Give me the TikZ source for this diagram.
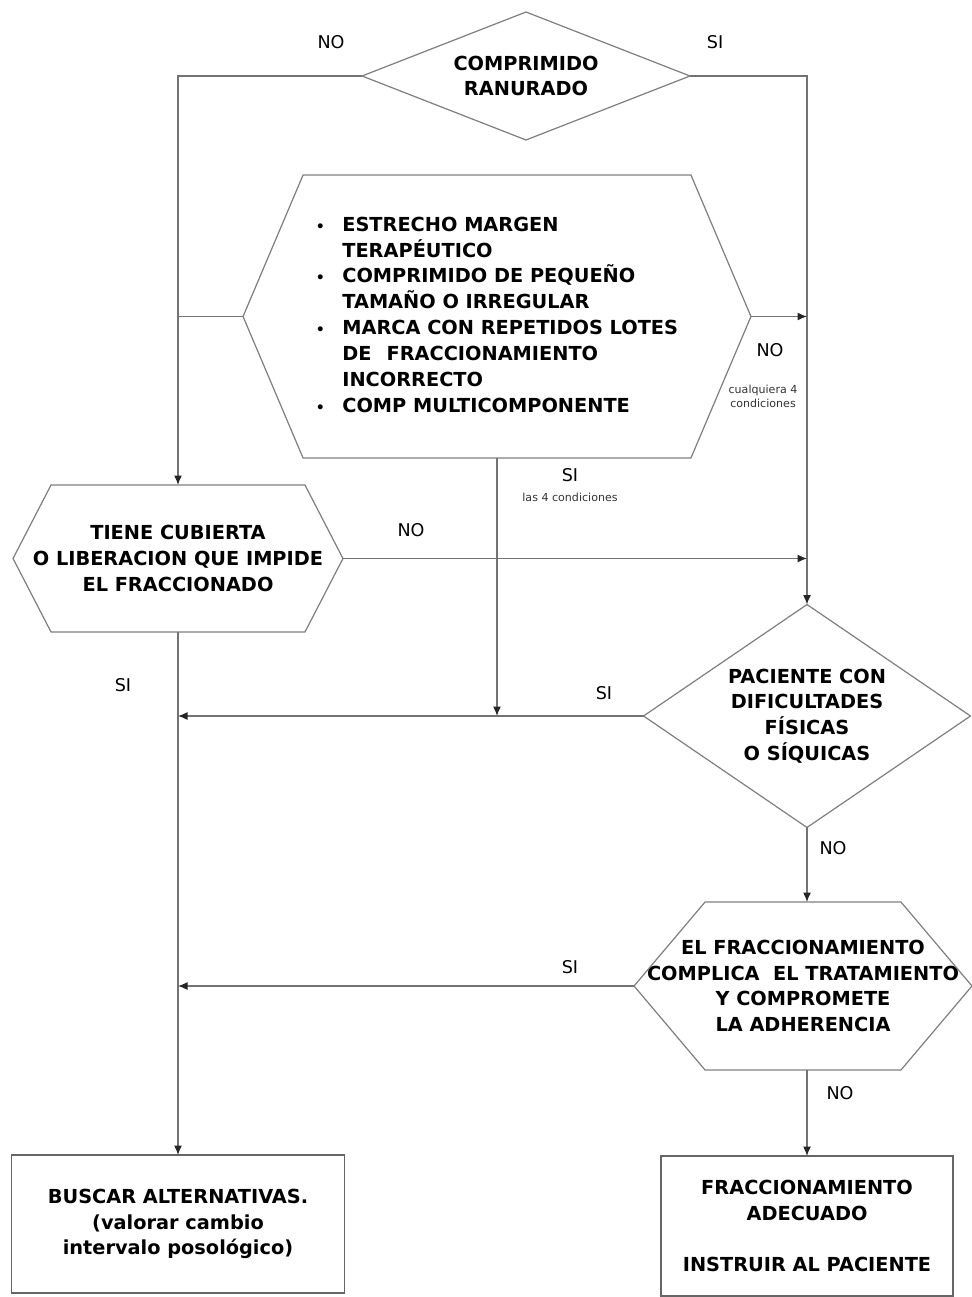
\documentclass[tikz,border=0pt]{standalone}
\usepackage{fontspec}
\setmainfont{DejaVu Sans}
\usetikzlibrary{calc,arrows.meta,shapes.geometric}
\def\hexagon[#1](#2)(#3){\draw[#1] (#2.west) -- ($(#2.north west)+(#3,0)$) -- ($(#2.north east)+(-#3,0)$) -- (#2.east) -- ($(#2.south east)+(-#3,0)$) -- ($(#2.south west)+(#3,0)$) -- cycle;}

\begin{document}
\begin{tikzpicture}[x=0.02cm, y=-0.02cm,
		boxtext/.style={font=\fontsize{11}{14.7}\selectfont\bfseries, align=center, inner sep=0pt, outer sep=0pt},
		decision/.style={boxtext, diamond, draw=black!50, line width=0.7pt},
		hexbox/.style={boxtext, rectangle},
		endbox/.style={boxtext, rectangle, draw=black!60, line width=0.7pt},
		conn/.style={draw=black!55, line width=0.7pt},
		arr/.style={conn, -{Latex[length=1.9mm,width=1.6mm,color=black!85]}},
		lab/.style={font=\fontsize{10}{12}\selectfont, inner sep=0pt},
		tinylab/.style={font=\fontsize{6.3}{8}\selectfont, align=center, inner sep=0pt, text=black!80}]
			%%%%% START %%%%%
			\useasboundingbox (0, 0) rectangle (971, 1297);
			
			\node[decision, aspect=2.56, minimum width=6.56cm, minimum height=2.56cm] (ran) at (526, 76) {COMPRIMIDO\\RANURADO};
			
			\node[hexbox, minimum width=10.16cm, minimum height=5.66cm] (crit) at (497, 316.5) {%
				\begin{tabular}{@{}c@{\hspace{0.35cm}}l@{}}
					{\fontsize{8}{8}\selectfont\textbullet} & ESTRECHO MARGEN\\
					& TERAPÉUTICO\\
					{\fontsize{8}{8}\selectfont\textbullet} & COMPRIMIDO DE PEQUEÑO\\
					& TAMAÑO O IRREGULAR\\
					{\fontsize{8}{8}\selectfont\textbullet} & MARCA CON REPETIDOS LOTES\\
					& DE\hspace{0.3cm}FRACCIONAMIENTO\\
					& INCORRECTO\\
					{\fontsize{8}{8}\selectfont\textbullet} & COMP MULTICOMPONENTE
				\end{tabular}};
			\hexagon[draw=black!50, line width=0.7pt](crit)(60)
			
			\node[hexbox, minimum width=6.6cm, minimum height=2.94cm] (tiene) at (178, 558.5) {TIENE CUBIERTA\\O LIBERACION QUE IMPIDE\\EL FRACCIONADO};
			\hexagon[draw=black!50, line width=0.7pt](tiene)(38)
			
			\node[decision, aspect=1.466, minimum width=6.54cm, minimum height=4.46cm] (pac) at (807, 716) {PACIENTE CON\\DIFICULTADES\\FÍSICAS\\O SÍQUICAS};
			
			\node[hexbox, minimum width=6.76cm, minimum height=3.36cm] (fracc) at (803, 986) {EL FRACCIONAMIENTO\\COMPLICA\ \ EL TRATAMIENTO\\Y COMPROMETE\\LA ADHERENCIA};
			\hexagon[draw=black!50, line width=0.7pt](fracc)(71)
			
			\node[endbox, minimum width=6.66cm, minimum height=2.76cm] (buscar) at (178, 1224) {BUSCAR ALTERNATIVAS.\\(valorar cambio\\intervalo posológico)};
			\node[endbox, minimum width=5.84cm, minimum height=2.8cm] (adec) at (807, 1226) {FRACCIONAMIENTO\\ADECUADO\\[14.7pt]INSTRUIR AL PACIENTE};
			
			% connectors
			\draw[arr] (ran.west) -| (tiene.north);
			\draw[arr] (ran.east) -| (pac.north);
			\draw[conn] (crit.west) -- (crit.west -| tiene.north);
			\draw[arr] (crit.east) -- (crit.east -| pac.north);
			\draw[arr] (crit.south) -- (crit.south |- pac.west);
			\draw[arr] (tiene.east) -- (tiene.east -| pac.north);
			\draw[arr] (tiene.south) -- (buscar.north);
			\draw[arr] (pac.west) -- (pac.west -| tiene.south);
			\draw[arr] (pac.south) -- (pac.south |- fracc.north);
			\draw[arr] (fracc.west) -- (fracc.west -| tiene.south);
			\draw[arr] (fracc.south -| adec.north) -- (adec.north);
			
			% labels
			\node[lab] (noRan) at (331, 42) {NO};
			\node[lab] (siRan) at (715, 42) {SI};
			\node[lab] (noCrit) at (770, 350) {NO};
			\node[tinylab] (noCritTxt) at (763, 396) {cualquiera 4\\condiciones};
			\node[lab] (siCrit) at (570, 475) {SI};
			\node[tinylab] (siCritTxt) at (570, 497) {las 4 condiciones};
			\node[lab] (noTiene) at (411, 530) {NO};
			\node[lab] (siTiene) at (123, 685) {SI};
			\node[lab] (siPac) at (604, 693) {SI};
			\node[lab] (noPac) at (833, 848) {NO};
			\node[lab] (siFracc) at (570, 967) {SI};
			\node[lab] (noFracc) at (840, 1093) {NO};
			%%%%% END %%%%%
\end{tikzpicture}
\end{document}
